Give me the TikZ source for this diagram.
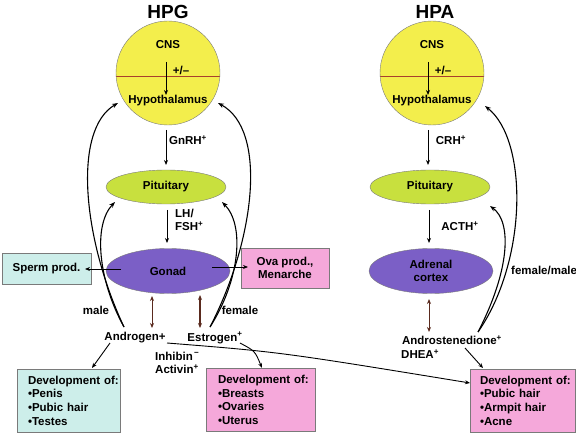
\documentclass[tikz,border=0pt]{standalone}
\usepackage{fontspec}
\setmainfont{Liberation Sans}
\usetikzlibrary{arrows.meta,shapes.geometric}
\definecolor{cyel}{HTML}{F3EE4C}
\definecolor{cgreen}{HTML}{C8E03E}
\definecolor{cpurple}{HTML}{7B5FC6}
\definecolor{cteal}{HTML}{CDEEEA}
\definecolor{cpink}{HTML}{F5A8DA}
\definecolor{cline}{HTML}{A8402C}
\definecolor{cbrown}{HTML}{5A2A1E}
\definecolor{cborder}{HTML}{7A7A7A}
\begin{document}
\begin{tikzpicture}[x=1pt,y=-1pt,
  every node/.style={font=\fontsize{11.5}{13.7}\selectfont\bfseries, inner sep=0pt},
  titletxt/.style={font=\fontsize{19}{22}\selectfont\bfseries},
  cnscirc/.style={circle, draw=cborder, fill=cyel, minimum size=104pt,
    path picture={\draw[cline, line width=0.8pt] ([yshift=-3pt]path picture bounding box.west) -- ([yshift=-3pt]path picture bounding box.east);}},
  pitell/.style={ellipse, draw=cborder, fill=cgreen, minimum width=120pt, minimum height=34pt},
  purpell/.style={ellipse, draw=cborder, fill=cpurple, minimum width=124pt, minimum height=45pt, align=center},
  tealbox/.style={rectangle, draw=cborder, fill=cteal},
  pinkbox/.style={rectangle, draw=cborder, fill=cpink},
  devbox/.style={align=left, minimum height=63pt},
  arr/.style={-{Stealth[length=5pt,width=4pt]}, line width=0.9pt},
  darr/.style={{Stealth[length=5pt,width=4pt]}-{Stealth[length=5pt,width=4pt]}, line width=0.9pt, draw=cbrown},
  fb/.style={-{Stealth[length=6pt,width=4.5pt]}, line width=1.1pt},
]
\useasboundingbox (0,0) rectangle (576,433);

% ---------- HPG ----------
\node[titletxt] (tG) at (168,12) {HPG};
\node[cnscirc] (cnsG) at (168,73) {};
\node (cnsTG) at (168,45) {CNS};
\node (hypG) at (168,101) {Hypothalamus};
\node (pmG) at (181,70) {+/--};
\coordinate (aG1) at (166,62);
\coordinate (aG2) at (166,95);
\draw[arr] (aG1) -- (aG2);

\node[pitell] (pitG) at (166,187) {Pituitary};
\coordinate (gn1) at (166,130);
\coordinate (gn2) at (166,165);
\draw[arr] (gn1) -- (gn2);
\node (gnrh) at (188,140) {GnRH\textsuperscript{+}};

\node[purpell] (gonad) at (168,271) {Gonad};
\coordinate (lh1) at (167,210);
\coordinate (lh2) at (167,243);
\draw[arr] (lh1) -- (lh2);
\node[align=left, anchor=west] (lhfsh) at (175,220) {LH/\\FSH\textsuperscript{+}};

\node[tealbox, minimum width=89pt, minimum height=31pt] (sperm) at (46.5,268.5) {Sperm prod.};
\node[pinkbox, minimum width=88pt, minimum height=40pt, align=center] (ova) at (285,268) {Ova prod.,\\Menarche};
\coordinate (sp1) at (121,269);
\coordinate (sp2) at (85,269);
\draw[arr] (sp1) -- (sp2);
\coordinate (ov1) at (212,267);
\coordinate (ov2) at (248,267);
\draw[arr] (ov1) -- (ov2);

\node (male) at (96,310) {male};
\node (female) at (240,310) {female};

\node (andr) at (135,338) {Androgen+};
\node (estr) at (215,338) {Estrogen\textsuperscript{+}};
\node[anchor=west] (inh) at (155,356) {Inhibin\textsuperscript{\,−}};
\node[anchor=west] (act) at (155,369) {Activin\textsuperscript{+}};

\coordinate (d1a) at (152,296);
\coordinate (d1b) at (152,328);
\draw[darr] (d1a) -- (d1b);
\coordinate (d2a) at (200,295);
\coordinate (d2b) at (200,328);
\draw[darr, line width=1.1pt] (d2a) -- (d2b);

\node[tealbox, devbox, text width=81pt, inner xsep=11pt] (devL) at (68.5,400.5)
  {\mbox{Development of:}\\\mbox{•Penis}\\\mbox{•Pubic hair}\\\mbox{•Testes}};
\node[pinkbox, devbox, text width=85pt, inner xsep=12pt] (devM) at (260.5,400)
  {\mbox{Development of:}\\\mbox{•Breasts}\\\mbox{•Ovaries}\\\mbox{•Uterus}};
\node[pinkbox, devbox, text width=85pt, inner xsep=10pt] (devR) at (522.5,400.5)
  {\mbox{Development of:}\\\mbox{•Pubic hair}\\\mbox{•Armpit hair}\\\mbox{•Acne}};

% feedback HPG
\coordinate (fL0) at (124,327);
\coordinate (fL1) at (118,103);
\coordinate (fL2) at (115,202);
\draw[fb] (fL0) .. controls (83,240) and (72,130) .. (fL1);
\draw[fb] (fL0) .. controls (98,280) and (93,225) .. (fL2);
\coordinate (fR0) at (210,327);
\coordinate (fR1) at (218,103);
\coordinate (fR2) at (222,202);
\draw[fb] (fR0) .. controls (255,240) and (268,130) .. (fR1);
\draw[fb] (fR0) .. controls (240,280) and (245,225) .. (fR2);

% androgen / estrogen to boxes
\coordinate (an1) at (110,343);
\coordinate (an2) at (92,368);
\draw[arr] (an1) -- (an2);
\coordinate (an3) at (167,343);
\coordinate (an4) at (470,383);
\draw[arr] (an3) .. controls (280,352) .. (an4);
\coordinate (es1) at (240,343);
\coordinate (es2) at (262,368);
\draw[arr] (es1) .. controls (255,351) .. (es2);

% ---------- HPA ----------
\node[titletxt] (tA) at (435,12) {HPA};
\node[cnscirc] (cnsA) at (432,73) {};
\node (cnsTA) at (432,45) {CNS};
\node (hypA) at (432,101) {Hypothalamus};
\node (pmA) at (443,70) {+/--};
\coordinate (aA1) at (428,62);
\coordinate (aA2) at (428,95);
\draw[arr] (aA1) -- (aA2);

\node[pitell] (pitA) at (430,187) {Pituitary};
\coordinate (cr1) at (428,130);
\coordinate (cr2) at (428,165);
\draw[arr] (cr1) -- (cr2);
\node (crh) at (451,140) {CRH\textsuperscript{+}};

\node[purpell] (adr) at (431,271) {Adrenal\\cortex};
\coordinate (ac1) at (429,210);
\coordinate (ac2) at (429,243);
\draw[arr] (ac1) -- (ac2);
\node (acth) at (460,226) {ACTH\textsuperscript{+}};

\coordinate (d3a) at (429,299);
\coordinate (d3b) at (429,332);
\draw[darr] (d3a) -- (d3b);

\node (andro) at (452,340) {Androstenedione\textsuperscript{+}};
\node[anchor=west] (dhea) at (401,354) {DHEA\textsuperscript{+}};
\node[anchor=west] (fm) at (511,270) {female/male};

\coordinate (fA0) at (478,332);
\coordinate (fA1) at (485,106);
\coordinate (fA2) at (490,206);
\draw[fb] (fA0) .. controls (528,260) and (528,140) .. (fA1);
\draw[fb] (fA0) .. controls (510,270) and (512,222) .. (fA2);

\coordinate (ad1) at (465,348);
\coordinate (ad2) at (483,368);
\draw[arr] (ad1) -- (ad2);
\end{tikzpicture}
\end{document}
